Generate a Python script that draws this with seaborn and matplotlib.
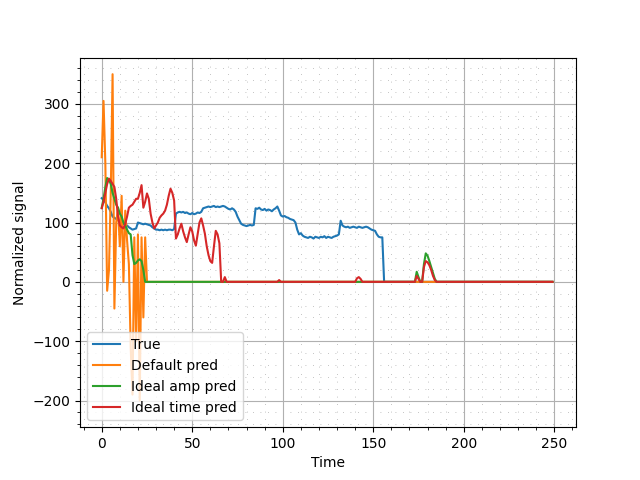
import numpy as np
import pandas as pd
import matplotlib
matplotlib.use("Agg")
import matplotlib.pyplot as plt
import seaborn as sns

N = 250
true_vals = ([141, 138, 134, 128, 124, 118, 110, 108, 106, 104, 102, 100, 98, 96, 95, 92, 90, 88, 89, 90,
              100, 99, 98, 97, 98, 97, 96, 95, 92, 90, 88, 88, 87, 88, 87, 88, 87, 88, 88, 87, 89,
              115, 117, 118, 117, 118, 116, 117, 115, 114, 116, 114, 115, 117, 116, 118,
              124, 125, 126, 127, 126, 127, 128, 126, 127, 126, 127, 128, 127, 125, 123, 122, 124, 122, 118,
              110, 104, 98, 96, 95, 94, 95, 96, 95, 96,
              124, 123, 125, 122, 121, 123, 120, 122, 121, 119, 122, 124, 127, 120,
              112, 110, 111, 109, 108, 106, 105, 104, 100, 88, 80,
              82, 78, 76, 75, 74, 76, 75, 73, 76, 75, 74, 76, 75, 77, 74, 76, 75, 74, 76, 77, 78, 80,
              103, 95, 93, 92, 93, 91, 92, 93, 92, 91, 93, 92, 91, 92, 93, 92, 90, 88, 87, 86, 80, 76, 75, 75]
             + [0] * 88)
default_vals = ([210, 305, 200, -15, 20, 150, 350, -45, 100, 125, 60, 145, 0, 120, 70, 30, -110, -190, 75,
                 -100, 80, -200, 75, -60, 75] + [0] * 225)
amp_vals = ([125, 140, 160, 175, 172, 165, 150, 140, 130, 125, 115, 110, 100, 95, 88, 82, 80, 45, 30, 32,
             36, 38, 35, 20] + [0] * 150 + [17, 8, 0, 0, 30, 48, 44, 35, 25, 15, 5] + [0] * 65)
time_vals = ([124, 135, 150, 165, 174, 170, 165, 160, 140, 110, 95, 92, 90, 98, 110, 125, 128, 130, 135, 140,
              140, 150, 163, 125, 135, 149, 140, 115, 100, 90, 95, 100, 108, 112, 115, 120, 130, 145, 157, 150,
              137, 73, 80, 90, 98, 85, 75, 67, 80, 92, 85, 70, 61, 80, 100, 107, 95, 81, 60, 45, 35, 32,
              60, 86, 80, 65, 0, 0, 8, 0]
             + [0] * 28 + [3] + [0] * 40 + [0] * 2 + [6, 8, 5] + [0] * 30
             + [10, 5, 0, 0, 25, 35, 33, 28, 20, 10, 3] + [0] * 65)

t = np.arange(N)
series = {"True": true_vals, "Default pred": default_vals,
          "Ideal amp pred": amp_vals, "Ideal time pred": time_vals}
colors = ["#1f77b4", "#ff7f0e", "#2ca02c", "#d62728"]

fig, ax = plt.subplots(figsize=(6.4, 4.8), dpi=100)
for (name, vals), c in zip(series.items(), colors):
    v = np.array(vals[:N], dtype=float)
    v = np.pad(v, (0, N - len(v)))
    sns.lineplot(x=t, y=v, ax=ax, color=c, label=name, linewidth=1.5)

ax.set_xlim(-12, 262)
ax.set_ylim(-245, 378)
ax.minorticks_on()
ax.grid(True, which="major", color="#b0b0b0", linewidth=0.8)
ax.grid(True, which="minor", color="#b0b0b0", linestyle=(0, (1, 8)), linewidth=0.6)
ax.set_xlabel("Time")
ax.set_ylabel("Normalized signal")
ax.legend(loc="lower left")
fig.savefig("out.png", dpi=100)
